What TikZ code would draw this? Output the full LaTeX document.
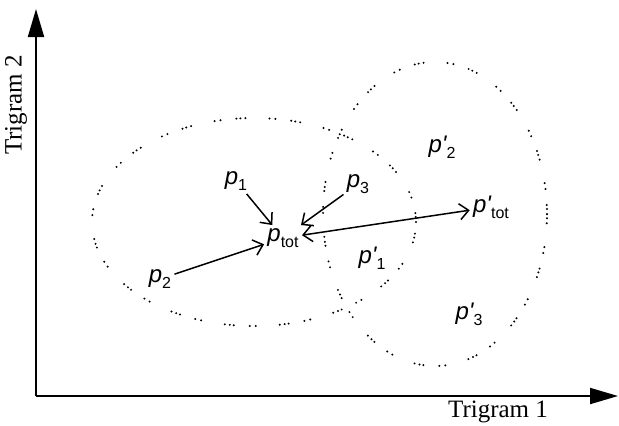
\documentclass[tikz,border=0pt]{standalone}
\usepackage{fontspec}
\setmainfont{Liberation Serif}
\newfontfamily\pfont{Liberation Sans}
\usepackage{tikz}
\usetikzlibrary{arrows.meta}
\newcommand{\pv}[1]{{\pfont\itshape p}\lower0.55ex\hbox{\pfont\fontsize{8}{9}\selectfont #1}}
\newcommand{\pvp}[1]{{\pfont\itshape p'}\lower0.55ex\hbox{\pfont\fontsize{8}{9}\selectfont #1}}
\tikzset{
  axisarr/.style = {-{Triangle[length=14pt,width=8pt]}, line width=1pt},
  dotline/.style = {black, line width=1.1pt, line cap=round,
                    dash pattern=on 0pt off 2.5pt on 0pt off 2pt on 0pt off 8pt on 0pt off 3pt on 0pt off 12pt},
  plab/.style    = {font=\fontsize{12}{13}\selectfont, inner sep=1.5pt},
  parr/.style    = {-{Straight Barb[length=4.5pt,width=8pt]}, line width=0.75pt},
  pdarr/.style   = {{Straight Barb[length=4.5pt,width=8pt]}-{Straight Barb[length=4.5pt,width=8pt]}, line width=0.75pt}
}

\begin{document}
\begin{tikzpicture}[x=0.5pt,y=-0.5pt]
  \useasboundingbox (0,0) rectangle (619,425);
  % axes
  \coordinate (O) at (36,396);
  \coordinate (ytip) at (36,9);
  \coordinate (xtip) at (618,396);
  \draw[axisarr] (O) -- (ytip);
  \draw[axisarr] (O) -- (xtip);
  \node[font=\fontsize{12.5}{14}\selectfont] (xlab) at (498,412) {Trigram 1};
  \node[font=\fontsize{12.5}{14}\selectfont, rotate=90] (ylab) at (16,105) {Trigram 2};
  % the two clouds
  \draw[dotline] (254,222) ellipse [x radius=81pt, y radius=52pt];
  \draw[dotline] (435,214) ellipse [x radius=56pt, y radius=76pt];
  % points
  \node[plab] (p1)   at (236,181) {\pv{1}};
  \node[plab] (p2)   at (160,279) {\pv{2}};
  \node[plab] (p3)   at (358,184) {\pv{3}};
  \node[plab] (ptot) at (283,238) {\pv{tot}};
  \node[plab] (q1)   at (372,258) {\pvp{1}};
  \node[plab] (q2)   at (442,147) {\pvp{2}};
  \node[plab] (q3)   at (469,314) {\pvp{3}};
  \node[plab] (qtot) at (491,207) {\pvp{tot}};
  % arrows
  \draw[parr] (p1) -- (ptot);
  \draw[parr] (p2) -- (ptot);
  \draw[parr] (p3) -- (ptot);
  \draw[pdarr] (ptot) -- (qtot);
\end{tikzpicture}
\end{document}
